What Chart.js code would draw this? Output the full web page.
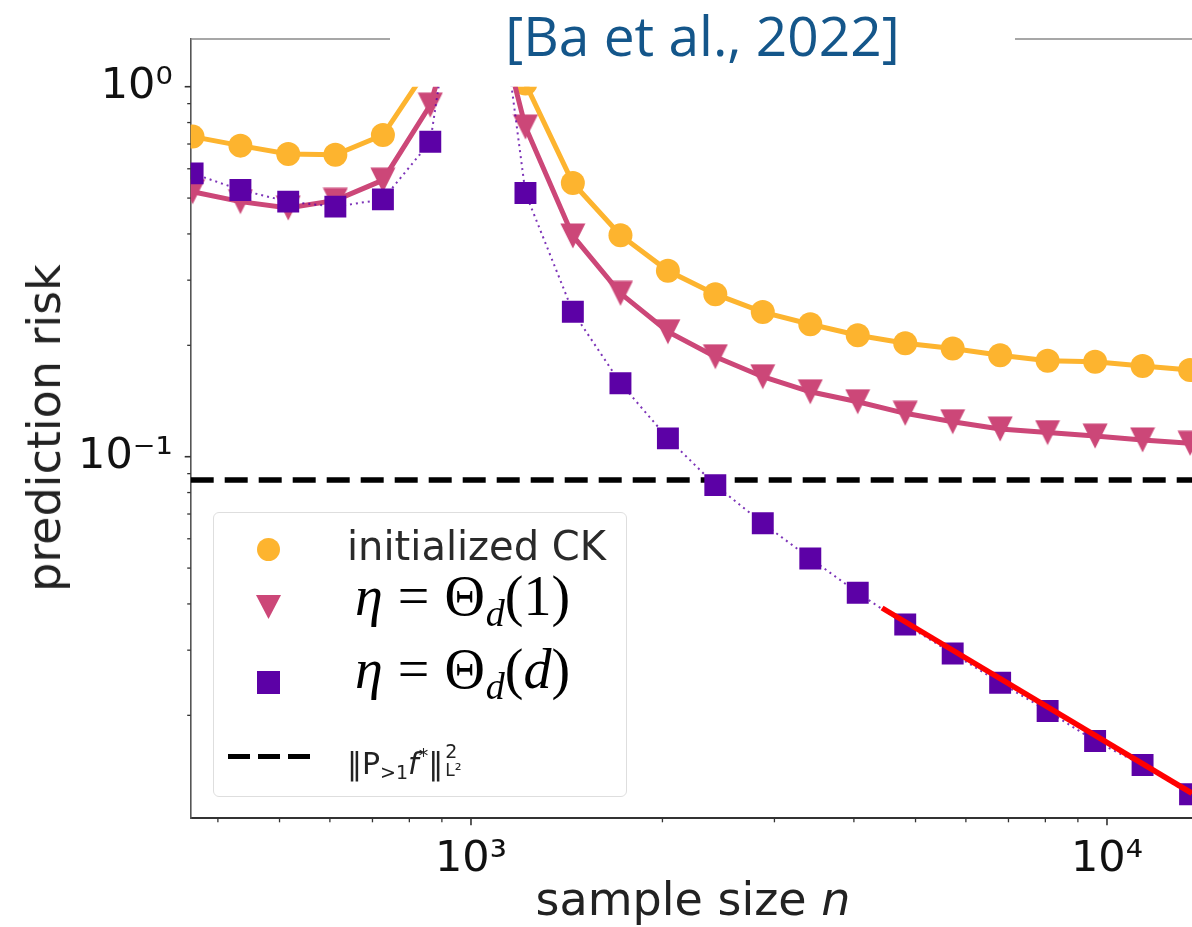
<!doctype html>
<html>
	<head>
		<meta charset="utf-8" />
		<title>Prediction risk vs sample size</title>
		<script src="https://cdn.jsdelivr.net/npm/chart.js@4.4.1/dist/chart.umd.min.js"></script>
		<style>
			html,
			body {
				margin: 0;
				padding: 0;
				background: #fff;
				overflow: hidden;
			}

			#wrap {
				position: relative;
				width: 1192px;
				height: 927px;
			}

			canvas {
				position: absolute;
				left: 0;
				top: 0;
			}

			.abs {
				position: absolute;
				white-space: nowrap;
				line-height: 1;
			}

			.title {
				left: 390px;
				top: 7px;
				width: 625px;
				height: 66px;
				background: #fff;
				text-align: center;
				font-family: "Open Sans", sans-serif;
				font-size: 55px;
				color: #14568a;
			}

			.axis-title {
				font-family: "DejaVu Sans", sans-serif;
				font-size: 46px;
				color: #222;
			}

			.legend-box {
				position: absolute;
				left: 213px;
				top: 512px;
				width: 414px;
				height: 285px;
				box-sizing: border-box;
				border: 1.5px solid #dedede;
				border-radius: 6px;
				background: rgba(255, 255, 255, 0.8);
			}

			.mk {
				position: absolute;
			}

			.sans {
				font-family: "DejaVu Sans", sans-serif;
			}

			.serif {
				font-family: "Liberation Serif", "DejaVu Serif", serif;
				font-size: 56px;
				color: #000;
			}

			.serif .eq {
				margin: 0 15px;
			}

			.serif sub {
				font-size: 38px;
				vertical-align: -11px;
				margin-left: 1px;
			}
		</style>
	</head>

	<body>
		<div id="wrap">
			<canvas id="chartJSContainer" width="1192" height="927"></canvas>

			<div class="abs title">[Ba et al., 2022]</div>

			<div class="abs axis-title" style="left: 693px; top: 876px; transform: translateX(-50%)">
				sample size <i>n</i>
			</div>
			<div
				class="abs axis-title"
				style="left: 44px; top: 428px; transform: translate(-50%, -50%) rotate(-90deg)"
			>
				prediction risk
			</div>

			<div class="legend-box"></div>
			<div class="mk" style="left: 257px; top: 538px; width: 23px; height: 23px; border-radius: 50%; background: #fdb42f"></div>
			<div
				class="mk"
				style="left: 256px; top: 595px; width: 25px; height: 24px; background: #cc4778; clip-path: polygon(0 0, 100% 0, 50% 100%)"
			></div>
			<div class="mk" style="left: 257px; top: 671px; width: 23px; height: 23px; background: #5c01a6"></div>
			<div
				class="mk"
				style="left: 228px; top: 754px; width: 82px; height: 5px; background: repeating-linear-gradient(90deg, #000 0 22px, transparent 22px 30px)"
			></div>

			<div class="abs sans" style="left: 347px; top: 526px; font-size: 40px; color: #2a2a2a">initialized CK</div>
			<div class="abs serif" style="left: 355px; top: 568px">
				<i>η</i><span class="eq">=</span>Θ<sub><i>d</i></sub>(1)
			</div>
			<div class="abs serif" style="left: 355px; top: 641px">
				<i>η</i><span class="eq">=</span>Θ<sub><i>d</i></sub>(<i>d</i>)
			</div>
			<div class="abs sans" style="left: 347px; top: 746px; font-size: 30px; color: #222">
				‖P<sub style="font-size: 19px; vertical-align: -5px">&gt;1</sub><i>f</i
				><sup style="font-size: 19px; vertical-align: 12px">*</sup>‖<span
					style="display: inline-block; position: relative; width: 22px; height: 10px"
					><span style="position: absolute; left: 2px; top: -22px; font-size: 19px">2</span
					><span style="position: absolute; left: 2px; top: -2px; font-size: 17px">L²</span></span
				>
			</div>
		</div>

		<script>
			// values (log-log axes)
			const sampleSizes = [
				365, 434, 516, 612, 727, 863, 1025, 1218, 1446, 1718, 2040, 2422, 2876,
				3416, 4056, 4817, 5720, 6792, 8066, 9579, 11375, 13509,
			];
			const riskInitCK = [
				0.733, 0.693, 0.658, 0.655, 0.74, 1.15, 2.2, 1.02, 0.549, 0.397, 0.318,
				0.275, 0.246, 0.228, 0.213, 0.2025, 0.196, 0.188, 0.1817, 0.1806,
				0.1758, 0.1715,
			];
			const riskEtaConst = [
				0.52, 0.489, 0.47, 0.493, 0.559, 0.892, 2.5, 0.778, 0.395, 0.2764,
				0.2177, 0.1863, 0.1645, 0.1498, 0.1408, 0.131, 0.1243, 0.1188, 0.1162,
				0.1137, 0.111, 0.1087,
			];
			const riskEtaD = [
				0.583, 0.526, 0.489, 0.474, 0.496, 0.71, 5.0, 0.516, 0.2465, 0.158,
				0.1121, 0.0838, 0.0661, 0.0531, 0.0429, 0.0352, 0.0294, 0.0245,
				0.02055, 0.01704, 0.01468, 0.01224,
			];
			const residualRisk = 0.0865;
			const fitSampleSizes = [4430, 13604];
			const fitRisk = [0.039, 0.01231];

			const xMin = 362.5,
				xMax = 13604,
				yMin = 0.010537,
				yMax = 1.3456;

			const superDigits = { "-": "⁻", 0: "⁰", 1: "¹", 2: "²", 3: "³", 4: "⁴" };

			function isDecade(v) {
				const e = Math.log10(v);
				return Math.abs(e - Math.round(e)) < 1e-6;
			}

			function decadeLabel(v) {
				if (!isDecade(v)) return "";
				const e = String(Math.round(Math.log10(v)));
				return "10" + e.split("").map((c) => superDigits[c]).join("");
			}

			function toPoints(xs, ys) {
				return xs.map((x, i) => ({ x: x, y: ys[i] }));
			}

			// matplotlib style downward triangle
			function makeTriangle(size, color) {
				const c = document.createElement("canvas");
				c.width = size + 1;
				c.height = size + 1;
				const g = c.getContext("2d");
				g.fillStyle = color;
				g.beginPath();
				g.moveTo(0.5, 0.5);
				g.lineTo(size + 0.5, 0.5);
				g.lineTo(size / 2 + 0.5, size + 0.5);
				g.closePath();
				g.fill();
				return c;
			}

			// tick marks (long at decades, short elsewhere) and the top spine
			const axisDecor = {
				id: "axisDecor",
				afterDraw(chart) {
					const { ctx, chartArea: a } = chart;
					const xs = chart.scales.x,
						ys = chart.scales.y;
					ctx.save();
					ctx.strokeStyle = "#333";

					for (let e = 2; e <= 4; e++) {
						for (let m = 1; m <= 9; m++) {
							const v = m * Math.pow(10, e);
							if (v <= xMin || v >= xMax) continue;
							const px = xs.getPixelForValue(v);
							ctx.lineWidth = m === 1 ? 1.6 : 1.3;
							ctx.beginPath();
							ctx.moveTo(px, a.bottom);
							ctx.lineTo(px, a.bottom + (m === 1 ? 7 : 4));
							ctx.stroke();
						}
					}
					for (let e = -2; e <= 0; e++) {
						for (let m = 1; m <= 9; m++) {
							const v = m * Math.pow(10, e);
							if (v <= yMin || v >= yMax) continue;
							const py = ys.getPixelForValue(v);
							ctx.lineWidth = m === 1 ? 1.6 : 1.3;
							ctx.beginPath();
							ctx.moveTo(a.left, py);
							ctx.lineTo(a.left - (m === 1 ? 6 : 3.5), py);
							ctx.stroke();
						}
					}

					ctx.strokeStyle = "#8a8a8a";
					ctx.lineWidth = 1.6;
					ctx.beginPath();
					ctx.moveTo(a.left, a.top);
					ctx.lineTo(a.right, a.top);
					ctx.stroke();
					ctx.restore();
				},
			};

			// nothing above 10^0 is drawn in the figure
			const clipAtOne = { left: 0, top: -47.7, right: 4, bottom: 0 };

			const ctx = document.getElementById("chartJSContainer").getContext("2d");
			window.testedChart = new Chart(ctx, {
				type: "scatter",
				data: {
					datasets: [
						{
							label: "fit",
							data: toPoints(fitSampleSizes, fitRisk),
							showLine: true,
							borderColor: "#ff0000",
							borderWidth: 5.5,
							pointRadius: 0,
							clip: clipAtOne,
						},
						{
							label: "η = Θd(d)",
							data: toPoints(sampleSizes, riskEtaD),
							showLine: true,
							borderColor: "rgba(92, 1, 166, 0.8)",
							borderWidth: 2,
							borderDash: [2, 4],
							pointStyle: "rect",
							pointRadius: 15.5,
							pointBackgroundColor: "#5c01a6",
							pointBorderWidth: 0,
							clip: clipAtOne,
						},
						{
							label: "residual",
							data: toPoints([xMin, xMax], [residualRisk, residualRisk]),
							showLine: true,
							borderColor: "#000",
							borderWidth: 5.5,
							borderDash: [23, 11],
							pointRadius: 0,
							clip: clipAtOne,
						},
						{
							label: "η = Θd(1)",
							data: toPoints(sampleSizes, riskEtaConst),
							showLine: true,
							borderColor: "#cc4778",
							borderWidth: 5,
							pointStyle: makeTriangle(25, "#cc4778"),
							pointRadius: 12,
							clip: clipAtOne,
						},
						{
							label: "initialized CK",
							data: toPoints(sampleSizes, riskInitCK),
							showLine: true,
							borderColor: "#fdb42f",
							borderWidth: 5,
							pointStyle: "circle",
							pointRadius: 12,
							pointBackgroundColor: "#fdb42f",
							pointBorderWidth: 0,
							clip: clipAtOne,
						},
					],
				},
				options: {
					responsive: false,
					animation: false,
					events: [],
					layout: {
						autoPadding: false,
						padding: { top: 39, left: 0, right: 0, bottom: 0 },
					},
					elements: { line: { tension: 0 } },
					plugins: {
						legend: { display: false },
						tooltip: { enabled: false },
					},
					scales: {
						x: {
							type: "logarithmic",
							min: xMin,
							max: xMax,
							grid: { display: false },
							border: { display: true, color: "#333", width: 2 },
							ticks: {
								autoSkip: false,
								maxRotation: 0,
								padding: 8,
								color: "#111",
								font: { family: "DejaVu Sans", size: 43 },
								callback: (v) => decadeLabel(v),
							},
							afterFit: (s) => {
								s.height = 108.7;
								s.paddingLeft = 0;
								s.paddingRight = 0;
							},
						},
						y: {
							type: "logarithmic",
							min: yMin,
							max: yMax,
							grid: { display: false },
							border: { display: true, color: "#555", width: 1.6 },
							ticks: {
								autoSkip: false,
								padding: 10,
								color: "#111",
								font: { family: "DejaVu Sans", size: 43 },
								callback: (v) => decadeLabel(v),
							},
							afterFit: (s) => {
								s.width = 190.7;
								s.paddingTop = 0;
								s.paddingBottom = 0;
							},
						},
					},
				},
				plugins: [axisDecor],
			});
		</script>
	</body>
</html>
